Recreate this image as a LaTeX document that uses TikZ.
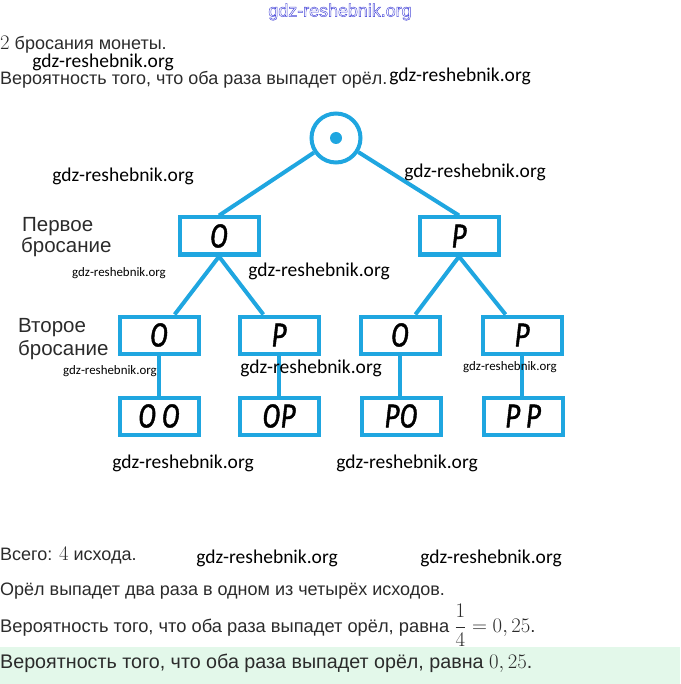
\documentclass[tikz,border=0pt]{standalone}
\usepackage[no-math]{fontspec}
\setmainfont{Liberation Sans}
\newfontfamily\wmfont{Carlito}
\newfontfamily\boxfont[FakeStretch=0.8,FakeBold=1.2]{Fira Sans}
\definecolor{treeblue}{HTML}{1FA6E0}
\definecolor{textgray}{HTML}{2B2B2B}
\definecolor{mint}{HTML}{E3F8EA}
\definecolor{wmblue}{HTML}{4A4AD8}
\newcommand{\mymath}[1]{{\fontsize{21.5}{21.5}\selectfont$#1$}}
\newcommand{\outlinetext}[1]{\special{pdf:code q 1 Tr 0.45 w 0.29 0.29 0.85 RG}#1\special{pdf:code Q}}
\begin{document}
\begin{tikzpicture}[x=1pt,y=-1pt,
  box/.style={draw=treeblue, line width=4pt, minimum width=79pt, minimum height=37pt, inner sep=0pt,
    font=\boxfont\itshape\fontsize{33}{33}\selectfont, text=black},
  conn/.style={draw=treeblue, line width=4pt},
  wm/.style={font=\wmfont\fontsize{19.5}{20}\selectfont, inner sep=0pt, text=black},
  wms/.style={font=\wmfont\fontsize{12.9}{13}\selectfont, inner sep=0pt, text=black},
  txt/.style={anchor=base west, inner sep=0pt, text=textgray},
  lbl/.style={anchor=base west, inner sep=0pt, font=\fontsize{20.5}{21}\selectfont, text=textgray}]
\useasboundingbox (0,0) rectangle (680,684);
\fill[mint] (0,647) rectangle (680,684);

% top texts
\node[font=\fontsize{17.9}{18}\selectfont, inner sep=0pt] (wtop) at (340,12) {\outlinetext{gdz-reshebnik.org}};
\node[txt, font=\fontsize{18}{20}\selectfont] (t1) at (0,50) {\mymath{2} бросания монеты.};
\node[txt, font=\fontsize{18}{20}\selectfont] (t2) at (0,85) {Вероятность того, что оба раза выпадет орёл.};

% tree
\node[circle, draw=treeblue, line width=4pt, minimum size=49pt, inner sep=0pt] (root) at (336,138) {};
\fill[treeblue] (root.center) circle[radius=6pt];

\node[box] (o1) at (219,236) {О};
\node[box] (p1) at (459,236) {Р};

\node[box] (a) at (159,335) {О};
\node[box] (b) at (279,335) {Р};
\node[box] (c) at (400,335) {О};
\node[box] (d) at (522,335) {Р};

\node[box] (aa) at (159,416) {О\,О};
\node[box] (bb) at (279,416) {ОР};
\node[box] (cc) at (401,416) {РО};
\node[box] (dd) at (523,416) {Р\,Р};

\draw[conn] (root) -- (o1.north);
\draw[conn] (root) -- (p1.north);
\draw[conn] (o1.south) -- (a);
\draw[conn] (o1.south) -- (b);
\draw[conn] (p1.south) -- (c);
\draw[conn] (p1.south) -- (d);
\draw[conn] (a) -- (aa);
\draw[conn] (b) -- (bb);
\draw[conn] (c) -- (c |- cc.north);
\draw[conn] (d) -- (d |- dd.north);

% level labels
\node[lbl] (l1a) at (22,232) {Первое};
\node[lbl] (l1b) at (21,253) {бросание};
\node[lbl] (l2a) at (18,332) {Второе};
\node[lbl] (l2b) at (18,355) {бросание};

% watermarks
\node[wm] (w1) at (103,62) {gdz-reshebnik.org};
\node[wm] (w2) at (460,76) {gdz-reshebnik.org};
\node[wm] (w3) at (123,176) {gdz-reshebnik.org};
\node[wm] (w4) at (475,172) {gdz-reshebnik.org};
\node[wms] (w5) at (119,273) {gdz-reshebnik.org};
\node[wm] (w6) at (319,271) {gdz-reshebnik.org};
\node[wms] (w7) at (110,371) {gdz-reshebnik.org};
\node[wm] (w8) at (311,368) {gdz-reshebnik.org};
\node[wms] (w9) at (510,367) {gdz-reshebnik.org};
\node[wm] (w10) at (183,463) {gdz-reshebnik.org};
\node[wm] (w11) at (407,463) {gdz-reshebnik.org};
\node[wm] (w12) at (267,558) {gdz-reshebnik.org};
\node[wm] (w13) at (491,558) {gdz-reshebnik.org};

% bottom texts
\node[txt, font=\fontsize{18}{20}\selectfont] (b1) at (0,560) {Всего: \mymath{4} исхода.};
\node[txt, font=\fontsize{18}{20}\selectfont] (b2) at (0,595) {Орёл выпадет два раза в одном из четырёх исходов.};
\node[txt, font=\fontsize{18.3}{20}\selectfont] (b3) at (0,632) {Вероятность того, что оба раза выпадет орёл, равна \mymath{\displaystyle\frac{1}{4}=0,25}.};
\node[txt, font=\fontsize{19.7}{22}\selectfont] (b4) at (0,668) {Вероятность того, что оба раза выпадет орёл, равна \mymath{0,25}.};
\end{tikzpicture}
\end{document}
